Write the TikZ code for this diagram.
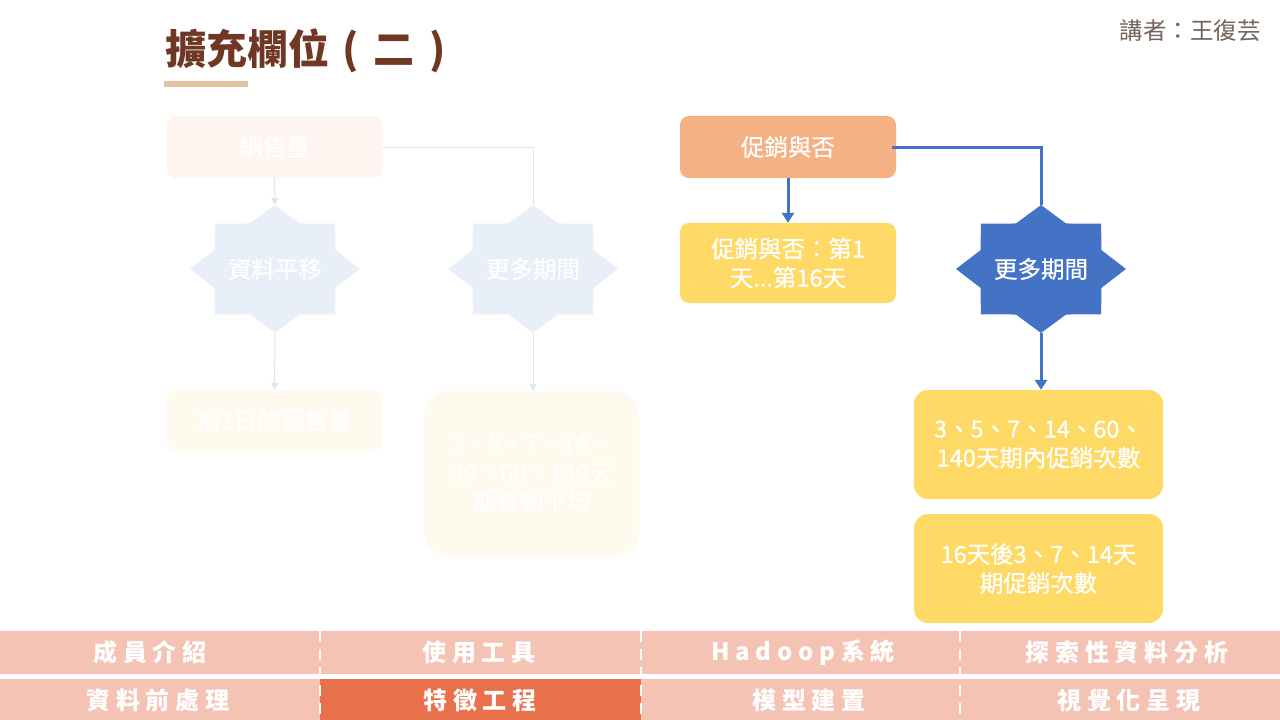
\documentclass[tikz,border=0pt]{standalone}
\usepackage{fontspec}
\setmainfont{Noto Sans CJK TC}
\newfontfamily\boxfont{Noto Sans CJK TC}[FakeBold=0.6]
\usetikzlibrary{arrows.meta,calc}
\definecolor{titlebrown}{RGB}{112,56,36}
\definecolor{titlebar}{RGB}{228,196,160}
\definecolor{speaker}{RGB}{115,100,92}
\definecolor{navbg}{RGB}{244,195,180}
\definecolor{navhi}{RGB}{232,112,74}
\definecolor{orangebox}{RGB}{244,177,131}
\definecolor{yellowbox}{RGB}{255,217,102}
\definecolor{bluestar}{RGB}{68,114,196}
\definecolor{fadepink}{RGB}{254,244,240}
\definecolor{fadeblue}{RGB}{233,239,248}
\definecolor{fadeyellow}{RGB}{255,250,238}
\definecolor{fadeline}{RGB}{222,230,242}
\newcommand\starshape[3]{% #1 fill colour, #2 x, #3 y
  \fill[#1, shift={(#2,#3)}] plot[samples at={0,22.5,...,337.5}, variable=\t]
    ({85*(0.885+0.115*cos(8*\t))*cos(\t)},{64*(0.885+0.115*cos(8*\t))*sin(\t)}) -- cycle;}
\begin{document}
\begin{tikzpicture}[x=1pt,y=-1pt,
  boxtext/.style={text=white, font=\boxfont\fontsize{23.5}{29}\selectfont, align=center, inner sep=0pt},
  flowbox/.style={boxtext, rounded corners=#1, minimum width=215pt},
  flowbox/.default=9pt,
  starnode/.style={boxtext, minimum width=170pt, minimum height=128pt},
  fadeconn/.style={draw=fadeline, line width=1pt},
  blueconn/.style={draw=bluestar, line width=3pt},
  fadearrow/.style={fadeconn, -{Triangle[width=7pt,length=7pt]}},
  bluearrow/.style={blueconn, -{Triangle[width=12pt,length=10pt]}},
  navtext/.style={text=white, font=\fontsize{24}{28}\selectfont\bfseries\addfontfeature{LetterSpace=24}, inner sep=0pt},
  sep/.style={draw=white, line width=2pt, dash pattern=on 11pt off 7pt}
]
\useasboundingbox (0,0) rectangle (1280,720);
\fill[white] (0,0) rectangle (1280,720);

% title
\node[anchor=west, inner sep=0pt, text=titlebrown, font=\fontsize{41}{46}\selectfont\bfseries] (title) at (165,51) {擴充欄位\hspace{13pt}(\hspace{15pt}二\hspace{15pt})};
\fill[titlebar] (164,81) rectangle (248,87);
\node[anchor=east, inner sep=0pt, text=speaker, font=\fontsize{23.5}{28}\selectfont] (spk) at (1261,31) {講者：王復芸};

% faded left flow
\node[flowbox, fill=fadepink, minimum height=62pt] (sales) at (274.5,147) {銷售量};
\starshape{fadeblue}{275}{269}
\node[starnode] (shift) at (275,269) {資料平移};
\starshape{fadeblue}{533}{269}
\node[starnode] (moreA) at (533,269) {更多期間};
\node[flowbox, fill=fadeyellow, minimum height=61pt] (prev) at (274.5,420.5) {前1日的銷售量};
\node[flowbox=24pt, fill=fadeyellow, minimum height=165pt] (ma) at (531.5,473.5) {3、5、7、14、\\30、60、140天\\期移動平均};
\draw[fadearrow] (sales.south) -- (shift.north);
\draw[fadeconn] (sales.east) -| (moreA.north);
\draw[fadearrow] (shift.south) -- (prev.north);
\draw[fadearrow] (moreA.south) -- (moreA.south |- ma.north);

% right flow
\node[flowbox, fill=orangebox, minimum width=216pt, minimum height=62pt] (promo) at (788,147) {促銷與否};
\node[flowbox, fill=yellowbox, minimum width=216pt, minimum height=80pt] (days) at (788,263) {促銷與否：第1\\天...第16天};
\starshape{bluestar}{1041}{269}
\node[starnode] (moreB) at (1041,269) {更多期間};
\node[flowbox=14pt, fill=yellowbox, minimum width=249pt, minimum height=109pt] (cnt1) at (1038.5,444.5) {3、5、7、14、60、\\140天期內促銷次數};
\node[flowbox=14pt, fill=yellowbox, minimum width=249pt, minimum height=109pt] (cnt2) at (1038.5,568.5) {16天後3、7、14天\\期促銷次數};
\draw[bluearrow] (promo.south) -- (days.north);
\draw[blueconn] ($(promo.east)+(-4,0)$) -| (moreB.north);
\draw[bluearrow] (moreB.south) -- (moreB.south |- cnt1.north);

% navigation bar
\fill[navbg] (0,631) rectangle (1280,673.5);
\fill[navbg] (0,679) rectangle (1280,720);
\fill[navhi] (320,679) rectangle (641,720);
\draw[sep] (320,631) -- (320,720);
\draw[sep] (641,631) -- (641,720);
\draw[sep] (960,631) -- (960,720);
\node[navtext] (n1) at (150,652.5) {成員介紹};
\node[navtext] (n2) at (479,652.5) {使用工具};
\node[navtext] (n3) at (803,652.5) {Hadoop系統};
\node[navtext] (n4) at (1127,652.5) {探索性資料分析};
\node[navtext] (n5) at (158,700) {資料前處理};
\node[navtext] (n6) at (480,700) {特徵工程};
\node[navtext] (n7) at (809,700) {模型建置};
\node[navtext] (n8) at (1129,700) {視覺化呈現};
\end{tikzpicture}
\end{document}
